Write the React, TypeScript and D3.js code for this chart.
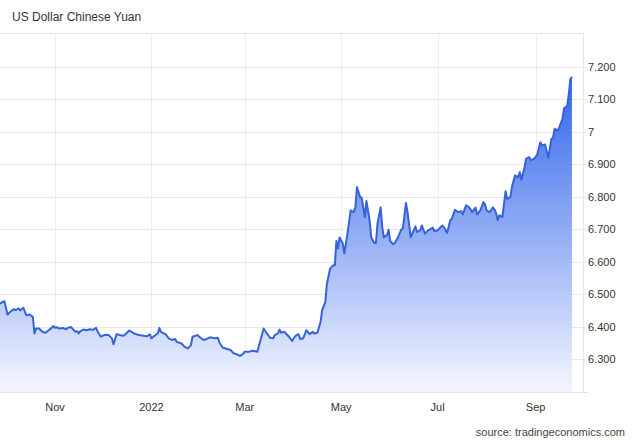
import React from "react";
import * as d3 from "d3";

const title = "US Dollar Chinese Yuan";
const source = "source: tradingeconomics.com";

const dates: string[] = [
  "2021-09-27","2021-09-30","2021-10-02","2021-10-04","2021-10-06","2021-10-07","2021-10-09","2021-10-10","2021-10-12","2021-10-13",
  "2021-10-14","2021-10-16","2021-10-18","2021-10-19","2021-10-20","2021-10-22","2021-10-24","2021-10-26","2021-10-28","2021-10-29",
  "2021-10-31","2021-11-01","2021-11-02","2021-11-04","2021-11-06","2021-11-08","2021-11-09","2021-11-11","2021-11-13","2021-11-14",
  "2021-11-15","2021-11-16","2021-11-17","2021-11-19","2021-11-21","2021-11-23","2021-11-25","2021-11-27","2021-11-28","2021-11-30",
  "2021-12-02","2021-12-05","2021-12-07","2021-12-08","2021-12-10","2021-12-12","2021-12-14",
  "2021-12-15","2021-12-18","2021-12-21","2021-12-24","2021-12-27","2021-12-29","2021-12-31","2022-01-01","2022-01-03","2022-01-05",
  "2022-01-06","2022-01-07","2022-01-10","2022-01-12","2022-01-14","2022-01-16","2022-01-17","2022-01-20","2022-01-22","2022-01-24",
  "2022-01-26","2022-01-27","2022-01-30","2022-02-01","2022-02-03","2022-02-05","2022-02-07","2022-02-10","2022-02-12","2022-02-13",
  "2022-02-15","2022-02-18","2022-02-20","2022-02-22","2022-02-24","2022-02-26","2022-02-28",
  "2022-03-01","2022-03-04","2022-03-06","2022-03-09","2022-03-11","2022-03-13","2022-03-15","2022-03-17","2022-03-19","2022-03-20",
  "2022-03-22","2022-03-23","2022-03-24","2022-03-26","2022-03-29","2022-03-31","2022-04-02","2022-04-04","2022-04-05","2022-04-07",
  "2022-04-09","2022-04-11","2022-04-13","2022-04-14","2022-04-16","2022-04-18","2022-04-19","2022-04-21","2022-04-22","2022-04-24",
  "2022-04-26","2022-04-27","2022-04-28","2022-04-29","2022-04-30","2022-05-02","2022-05-03",
  "2022-05-05","2022-05-07","2022-05-09","2022-05-10","2022-05-11","2022-05-13","2022-05-14","2022-05-16","2022-05-17","2022-05-19",
  "2022-05-20","2022-05-22","2022-05-23","2022-05-24","2022-05-26","2022-05-27","2022-05-28","2022-05-30","2022-05-31","2022-06-01",
  "2022-06-03","2022-06-04","2022-06-06","2022-06-08","2022-06-09","2022-06-11","2022-06-12","2022-06-14","2022-06-15","2022-06-17",
  "2022-06-18","2022-06-20","2022-06-21","2022-06-23","2022-06-25","2022-06-28","2022-06-29","2022-07-01","2022-07-04","2022-07-05",
  "2022-07-07","2022-07-09","2022-07-10","2022-07-12","2022-07-14","2022-07-16","2022-07-17","2022-07-19","2022-07-21",
  "2022-07-23","2022-07-25","2022-07-26","2022-07-28","2022-07-30","2022-07-31","2022-08-01","2022-08-03","2022-08-05","2022-08-06",
  "2022-08-07","2022-08-08","2022-08-09","2022-08-11","2022-08-13","2022-08-14","2022-08-16","2022-08-17","2022-08-19","2022-08-21",
  "2022-08-22","2022-08-23","2022-08-25","2022-08-26","2022-08-28","2022-08-29","2022-08-31","2022-09-02","2022-09-04","2022-09-05",
  "2022-09-07","2022-09-09","2022-09-11","2022-09-12","2022-09-13","2022-09-15","2022-09-16","2022-09-18","2022-09-19","2022-09-21",
  "2022-09-22","2022-09-23","2022-09-24",
];

const values: number[] = [
  6.472,6.479,6.438,6.448,6.455,6.452,6.457,6.451,6.459,6.446,
  6.436,6.438,6.431,6.380,6.395,6.395,6.385,6.382,6.390,6.393,
  6.403,6.397,6.399,6.395,6.397,6.393,6.397,6.400,6.390,6.385,
  6.387,6.380,6.387,6.392,6.390,6.393,6.391,6.397,6.385,6.370,
  6.375,6.375,6.365,6.347,6.378,6.375,6.373,
  6.375,6.389,6.380,6.375,6.373,6.371,6.377,6.365,6.373,6.380,
  6.397,6.385,6.377,6.365,6.360,6.363,6.354,6.349,6.339,6.334,
  6.344,6.370,6.375,6.367,6.360,6.363,6.368,6.365,6.367,6.352,
  6.337,6.332,6.329,6.319,6.316,6.311,6.317,
  6.324,6.324,6.327,6.324,6.360,6.395,6.380,6.367,6.365,6.375,
  6.380,6.392,6.382,6.385,6.370,6.357,6.372,6.378,6.363,6.365,
  6.390,6.378,6.385,6.380,6.382,6.416,6.452,6.477,6.533,6.579,
  6.590,6.590,6.664,6.641,6.675,6.657,6.626,
  6.687,6.758,6.753,6.768,6.830,6.799,6.797,6.738,6.787,6.728,
  6.676,6.658,6.658,6.718,6.768,6.707,6.676,6.682,6.699,6.664,
  6.654,6.658,6.676,6.699,6.702,6.781,6.753,6.676,6.687,6.709,
  6.692,6.697,6.712,6.687,6.697,6.705,6.694,6.697,6.712,6.707,
  6.689,6.728,6.733,6.760,6.753,6.756,6.746,6.774,6.768,
  6.753,6.767,6.746,6.758,6.784,6.777,6.758,6.753,6.768,6.761,
  6.750,6.728,6.743,6.738,6.817,6.794,6.799,6.830,6.866,6.860,
  6.876,6.852,6.891,6.917,6.922,6.912,6.917,6.929,6.968,6.958,
  6.961,6.920,6.978,6.981,7.009,7.004,7.014,7.040,7.072,7.080,
  7.116,7.162,7.169,
];

const yTicks: number[] = [6.3, 6.4, 6.5, 6.6, 6.7, 6.8, 6.9, 7.0, 7.1, 7.2];
const xTickDates: string[] = ["2021-11-01", "2022-01-01", "2022-03-01", "2022-05-01", "2022-07-01", "2022-09-01"];
const xTickLabels: string[] = ["Nov", "2022", "Mar", "May", "Jul", "Sep"];

const W = 635;
const H = 440;
const plotLeft = 0;
const plotRight = 583;
const plotTop = 33;
const plotBottom = 392;
const font = "'Liberation Sans', Arial, sans-serif";

export default function App() {
  const parse = d3.timeParse("%Y-%m-%d");
  const data = dates.map((d, i) => ({ date: parse(d) as Date, value: values[i] }));

  const x = d3
    .scaleTime()
    .domain([parse("2021-11-01") as Date, parse("2022-09-01") as Date])
    .range([55, 535.6]);
  const y = d3.scaleLinear().domain([6.2, 7.2]).range([plotBottom, 66.7]);

  const line = d3
    .line<{ date: Date; value: number }>()
    .x((d) => x(d.date))
    .y((d) => y(d.value));
  const area = d3
    .area<{ date: Date; value: number }>()
    .x((d) => x(d.date))
    .y0(plotBottom)
    .y1((d) => y(d.value));

  const fmt = (v: number) => (Math.abs(v - 7) < 1e-9 ? "7" : v.toFixed(3));

  return (
    <svg
      width={W}
      height={H}
      style={{ position: "absolute", left: 0, top: 0, background: "#fff" }}
    >
      <defs>
        <linearGradient id="fillGrad" gradientUnits="userSpaceOnUse" x1="0" y1="70" x2="0" y2={plotBottom}>
          <stop offset="0" stopColor="rgb(45,98,234)" />
          <stop offset="1" stopColor="rgb(245,247,255)" />
        </linearGradient>
      </defs>
      <rect x={0} y={0} width={W} height={H} fill="#fff" />
      <text x={12} y={21} fontFamily={font} fontSize={12} fill="#333">
        {title}
      </text>
      {/* top border */}
      <line x1={0} x2={plotRight} y1={plotTop + 0.5} y2={plotTop + 0.5} stroke="#e6e6e6" />
      {/* horizontal grid */}
      {yTicks.map((t) => (
        <line key={"h" + t} x1={plotLeft} x2={586} y1={Math.round(y(t)) + 0.5} y2={Math.round(y(t)) + 0.5} stroke="#e8e8e8" />
      ))}
      {/* vertical grid */}
      {xTickDates.map((d) => {
        const xx = Math.round(x(parse(d) as Date)) + 0.5;
        return <line key={"v" + d} x1={xx} x2={xx} y1={plotTop} y2={plotBottom} stroke="#eeeeee" />;
      })}
      <path d={area(data) || ""} fill="url(#fillGrad)" />
      <path d={line(data) || ""} fill="none" stroke="#3563d8" strokeWidth={2} strokeLinejoin="round" />
      {/* right border */}
      <line x1={plotRight + 0.5} x2={plotRight + 0.5} y1={plotTop} y2={plotBottom} stroke="#e6e6e6" />
      {/* bottom axis */}
      <line x1={0} x2={588} y1={plotBottom + 0.5} y2={plotBottom + 0.5} stroke="#e0e0e0" />
      {yTicks.map((t) => (
        <text key={"yl" + t} x={588} y={y(t) + 4} fontFamily={font} fontSize={11} fill="#333">
          {fmt(t)}
        </text>
      ))}
      {xTickDates.map((d, i) => (
        <text
          key={"xl" + d}
          x={x(parse(d) as Date)}
          y={411}
          textAnchor="middle"
          fontFamily={font}
          fontSize={11}
          fill="#333"
        >
          {xTickLabels[i]}
        </text>
      ))}
      <text x={625} y={436} textAnchor="end" fontFamily={font} fontSize={11} fill="#444">
        {source}
      </text>
    </svg>
  );
}
